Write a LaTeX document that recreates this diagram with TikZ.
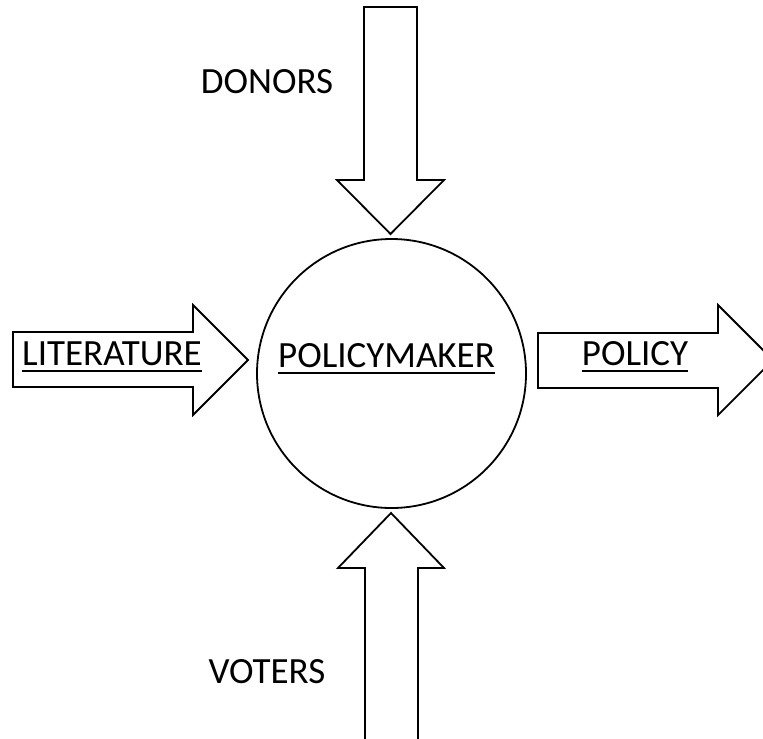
\documentclass[tikz,border=0pt]{standalone}
\usepackage{fontspec}
\setmainfont{Carlito}

% Underlined word with a heavier rule.
\newcommand{\uword}[1]{\leavevmode\setbox0=\hbox{#1}%
	\rlap{\raisebox{-3.5pt}{\rule{\wd0}{1pt}}}\box0}

\begin{document}
\begin{tikzpicture}
		[
			x=0.5pt, y=-0.5pt,
			% Outline of the big block arrows.
			blockarrow/.style={draw, line width=0.9pt, fill=white, line join=miter},
			% Text set on the page.
			word/.style={anchor=base, inner sep=0pt, font=\fontsize{18.5}{22}\selectfont}
		]
			\useasboundingbox (0,0) rectangle (763,738);

			% The policymaker in the middle.
			\node[draw, circle, line width=0.9pt, inner sep=0pt, minimum size=134.5pt] (pm) at (391.5,373.5) {};
			\node[word] (pmtext) at (386.5,367) {\uword{POLICYMAKER}};

			% Arrow from the top.
			\draw[blockarrow] (364,7) -- (417,7) -- (417,180) -- (444,180) -- (390.5,234)
				-- (337,180) -- (364,180) -- cycle;
			\node[word] (donors) at (267,93) {DONORS};

			% Arrow from the bottom.
			\draw[blockarrow] (365,750) -- (365,568) -- (338,568) -- (391,513)
				-- (444,568) -- (418,568) -- (418,750);
			\node[word] (voters) at (267,683) {VOTERS};

			% Arrow from the left.
			\draw[blockarrow] (13,332) -- (193,332) -- (193,305) -- (248,360)
				-- (193,415) -- (193,387) -- (13,387) -- cycle;
			\node[word] (lit) at (112,365) {\uword{LITERATURE}};

			% Arrow to the right.
			\draw[blockarrow] (538,333) -- (718,333) -- (718,305) -- (773,360)
				-- (718,415) -- (718,388) -- (538,388) -- cycle;
			\node[word] (policy) at (635,365) {\uword{POLICY}};
		\end{tikzpicture}
\end{document}
